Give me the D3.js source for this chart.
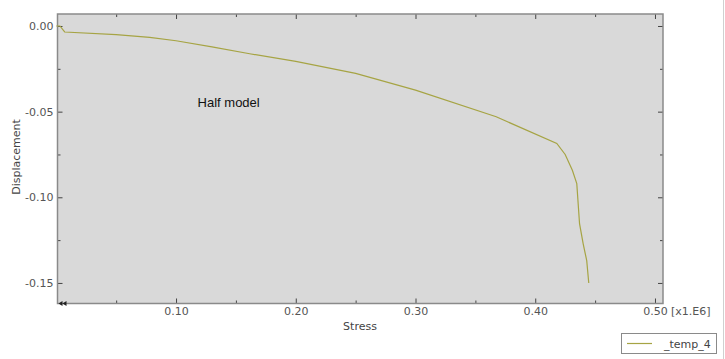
<!DOCTYPE html>
<html><head><meta charset="utf-8">
<script src="https://cdn.jsdelivr.net/npm/d3@7/dist/d3.min.js"></script>
<style>body{margin:0;background:#fff;}svg{display:block;}</style>
</head><body>
<svg id="c" width="725" height="359"></svg>
<script>
const stress = [0, 0.003, 0.007, 0.05, 0.078, 0.10, 0.13, 0.1615, 0.20, 0.25, 0.30, 0.3674, 0.418, 0.425, 0.431, 0.4347, 0.437, 0.440, 0.443, 0.4447];
const displacement = [0, 0, -0.0035, -0.005, -0.0066, -0.0086, -0.0122, -0.0162, -0.0207, -0.0277, -0.0374, -0.053, -0.0686, -0.075, -0.0842, -0.092, -0.1154, -0.127, -0.137, -0.150];
const xTicks = [0.10, 0.20, 0.30, 0.40, 0.50];
const yTicks = [0.00, -0.05, -0.10, -0.15];
const xMinor = [0.05, 0.15, 0.25, 0.35, 0.45];
const yMinor = [-0.025, -0.075, -0.125];
const seriesName = "_temp_4";
const annotation = "Half model";

const svg = d3.select("#c");
const L = 57.5, R = 663, T = 14, B = 303.5;
const x = d3.scaleLinear().domain([0.001, 0.5067]).range([L, R]);
const y = d3.scaleLinear().domain([-0.162, 0.007]).range([B, T]);
const axisCol = "#8a8a8a", lineCol = "#a6a444", textCol = "#555";

svg.append("line").attr("x1",723.5).attr("x2",723.5).attr("y1",0).attr("y2",359).attr("stroke","#d0d0d0");

svg.append("rect").attr("x",L).attr("y",T).attr("width",R-L).attr("height",B-T).attr("fill","#d9d9d9");

const fmt = v => d3.format(".2f")(v).replace("\u2212","-");
svg.append("g").attr("transform",`translate(0,${B})`)
  .call(d3.axisBottom(x).tickValues(xTicks).tickSizeInner(-5).tickSizeOuter(0).tickPadding(4).tickFormat(fmt));
svg.append("g").attr("transform",`translate(0,${T})`)
  .call(d3.axisTop(x).tickValues(xTicks).tickSizeInner(-5).tickSizeOuter(0).tickFormat(""));
svg.append("g").attr("transform",`translate(${L},0)`)
  .call(d3.axisLeft(y).tickValues(yTicks).tickSizeInner(-5).tickSizeOuter(0).tickPadding(4).tickFormat(fmt));
svg.append("g").attr("transform",`translate(${R},0)`)
  .call(d3.axisRight(y).tickValues(yTicks).tickSizeInner(-5).tickSizeOuter(0).tickFormat(""));
svg.append("g").attr("transform",`translate(0,${B})`).call(d3.axisBottom(x).tickValues(xMinor).tickSizeInner(-3).tickSizeOuter(0).tickFormat(""));
svg.append("g").attr("transform",`translate(0,${T})`).call(d3.axisTop(x).tickValues(xMinor).tickSizeInner(-3).tickSizeOuter(0).tickFormat(""));
svg.append("g").attr("transform",`translate(${L},0)`).call(d3.axisLeft(y).tickValues(yMinor).tickSizeInner(-3).tickSizeOuter(0).tickFormat(""));
svg.append("g").attr("transform",`translate(${R},0)`).call(d3.axisRight(y).tickValues(yMinor).tickSizeInner(-3).tickSizeOuter(0).tickFormat(""));

svg.selectAll(".domain").remove();
svg.selectAll(".tick line").attr("stroke","#444").attr("stroke-width",1);
svg.selectAll(".tick text").attr("fill",textCol).style("font-family","'DejaVu Sans', Verdana, sans-serif").style("font-size","11px");

svg.append("rect").attr("x",L).attr("y",T).attr("width",R-L).attr("height",B-T)
  .attr("fill","none").attr("stroke",axisCol).attr("stroke-width",1.5);

[0,4].forEach(o=>{
  svg.append("path").attr("d",`M${L+1+o},${B} l4,-2.5 l0,5 z`).attr("fill","#222");
});

const pts = stress.map((s,i)=>[s, displacement[i]]);
svg.append("path").datum(pts)
  .attr("d", d3.line().x(d=>x(d[0])).y(d=>y(d[1])))
  .attr("fill","none").attr("stroke",lineCol).attr("stroke-width",1.2);

svg.append("text").attr("x",671).attr("y",315).attr("fill",textCol)
  .style("font-family","'DejaVu Sans', Verdana, sans-serif").style("font-size","11px").text("[x1.E6]");

svg.append("text").attr("x",360).attr("y",330).attr("text-anchor","middle").attr("fill","#444")
  .style("font-family","'DejaVu Sans', Verdana, sans-serif").style("font-size","11px").text("Stress");
svg.append("text").attr("transform","translate(20,157) rotate(-90)").attr("text-anchor","middle").attr("fill","#444")
  .style("font-family","'DejaVu Sans', Verdana, sans-serif").style("font-size","11px").text("Displacement");

svg.append("text").attr("x",x(0.118)).attr("y",y(-0.0475)).attr("fill","#111")
  .style("font-family","'Liberation Sans', Arial, sans-serif").style("font-size","13px").text(annotation);

svg.append("rect").attr("x",621.5).attr("y",333.5).attr("width",95).attr("height",20)
  .attr("fill","#fff").attr("stroke","#8a8a8a").attr("stroke-width",1);
svg.append("line").attr("x1",627).attr("x2",652).attr("y1",343.5).attr("y2",343.5).attr("stroke",lineCol).attr("stroke-width",1.2);
svg.append("text").attr("x",664).attr("y",348).attr("fill","#444")
  .style("font-family","'DejaVu Sans', Verdana, sans-serif").style("font-size","11px").text(seriesName);
</script>
</body></html>
